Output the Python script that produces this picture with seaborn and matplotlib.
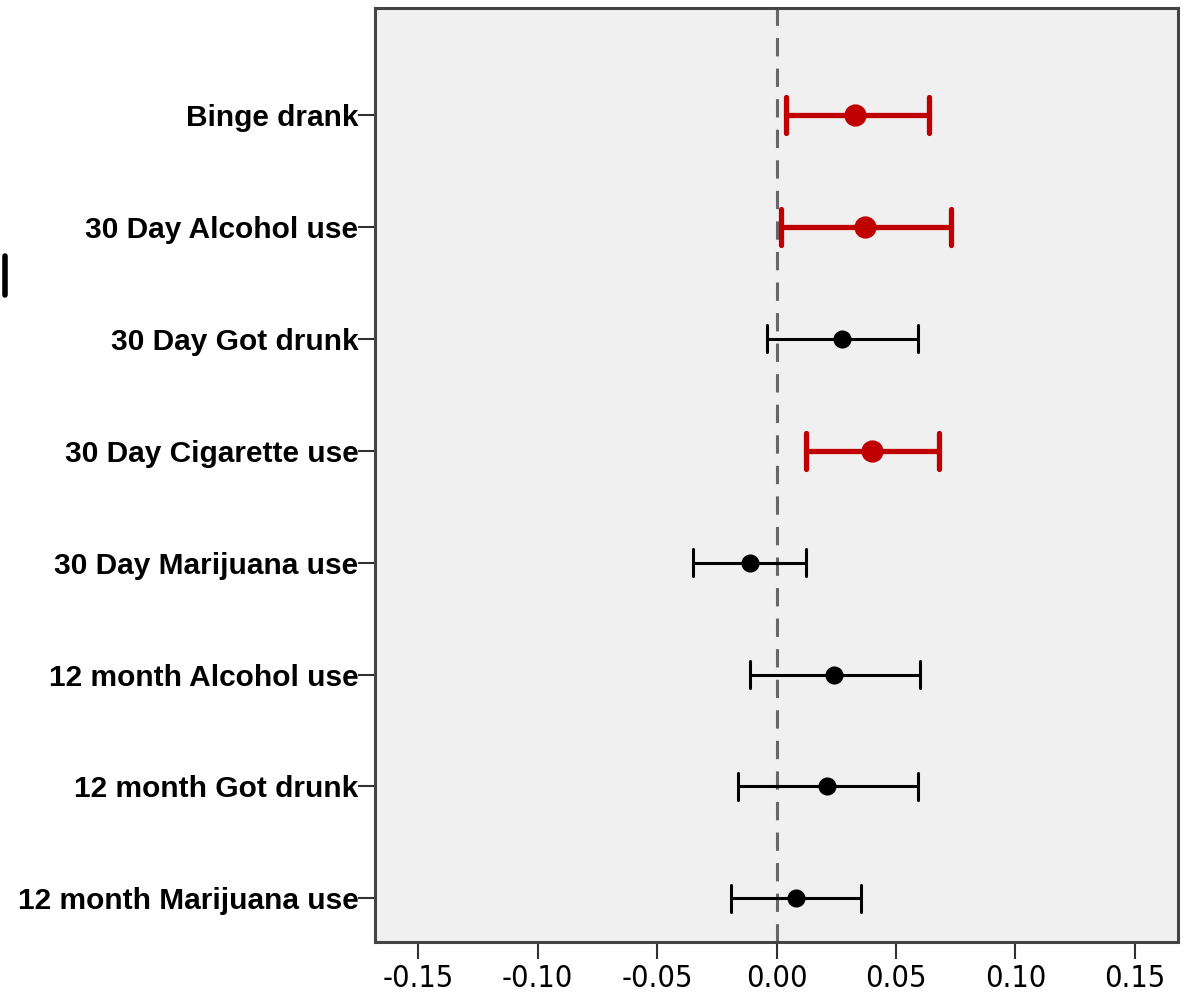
import numpy as np
import pandas as pd
import matplotlib
matplotlib.use("Agg")
import matplotlib.pyplot as plt
from matplotlib.lines import Line2D
import seaborn as sns

categories = ["Binge drank", "30 Day Alcohol use", "30 Day Got drunk",
              "30 Day Cigarette use", "30 Day Marijuana use",
              "12 month Alcohol use", "12 month Got drunk",
              "12 month Marijuana use"]
estimate = [0.033, 0.037, 0.0275, 0.040, -0.011, 0.024, 0.021, 0.008]
ci_low = [0.004, 0.002, -0.004, 0.0125, -0.035, -0.011, -0.016, -0.019]
ci_high = [0.064, 0.073, 0.059, 0.068, 0.0125, 0.060, 0.059, 0.0355]
significant = [True, True, False, True, False, False, False, False]
xticks = [-0.15, -0.10, -0.05, 0.00, 0.05, 0.10, 0.15]

rows = []
for c, e, lo, hi, s in zip(categories, estimate, ci_low, ci_high, significant):
    for v in (lo, e, hi):
        rows.append({"category": c, "value": v, "sig": s})
df = pd.DataFrame(rows)

sns.set_style("white")
fig = plt.figure(figsize=(11.85, 9.97), dpi=100)
ax = fig.add_axes([375/1185, 1-942/997, (1178-375)/1185, (942-8)/997])
ax.set_facecolor("#f0f0f0")

ax.axvline(0, color="#666666", lw=2.2, dashes=(6, 4), zorder=1)

sns.pointplot(data=df[~df.sig], x="value", y="category", order=categories,
              estimator=np.median, errorbar=("pi", 100), capsize=0.24,
              color="black", linestyle="none", markersize=11,
              err_kws={"linewidth": 2.2}, ax=ax, zorder=3)
sns.pointplot(data=df[df.sig], x="value", y="category", order=categories,
              estimator=np.median, errorbar=("pi", 100), capsize=0.32,
              color="#c00000", linestyle="none", markersize=14,
              err_kws={"linewidth": 3.8}, ax=ax, zorder=4)

ax.set_xlim(-0.168, 0.168)
ax.set_ylim(7.39, -0.955)
ax.set_xticks(xticks)
ax.set_xticklabels([f"{t:.2f}" for t in xticks], family="DejaVu Sans",
                   fontstretch="condensed", fontsize=22, color="black")
ax.set_yticks(range(len(categories)))
ax.set_yticklabels(categories, family=["Liberation Sans", "DejaVu Sans"],
                   fontweight="bold", fontsize=21.5, color="black")
ax.set_xlabel("")
ax.set_ylabel("")
ax.tick_params(axis="x", direction="out", length=12, width=1.5, color="#333333", pad=4, bottom=True)
ax.tick_params(axis="y", direction="out", length=12, width=1.5, color="#333333", pad=0, left=True)
for sp in ax.spines.values():
    sp.set_color("#444444")
    sp.set_linewidth(2.2)

fig.add_artist(Line2D([5/1185, 5/1185], [1-256/997, 1-295/997], color="black", lw=4))

fig.savefig("out.png", dpi=100)
